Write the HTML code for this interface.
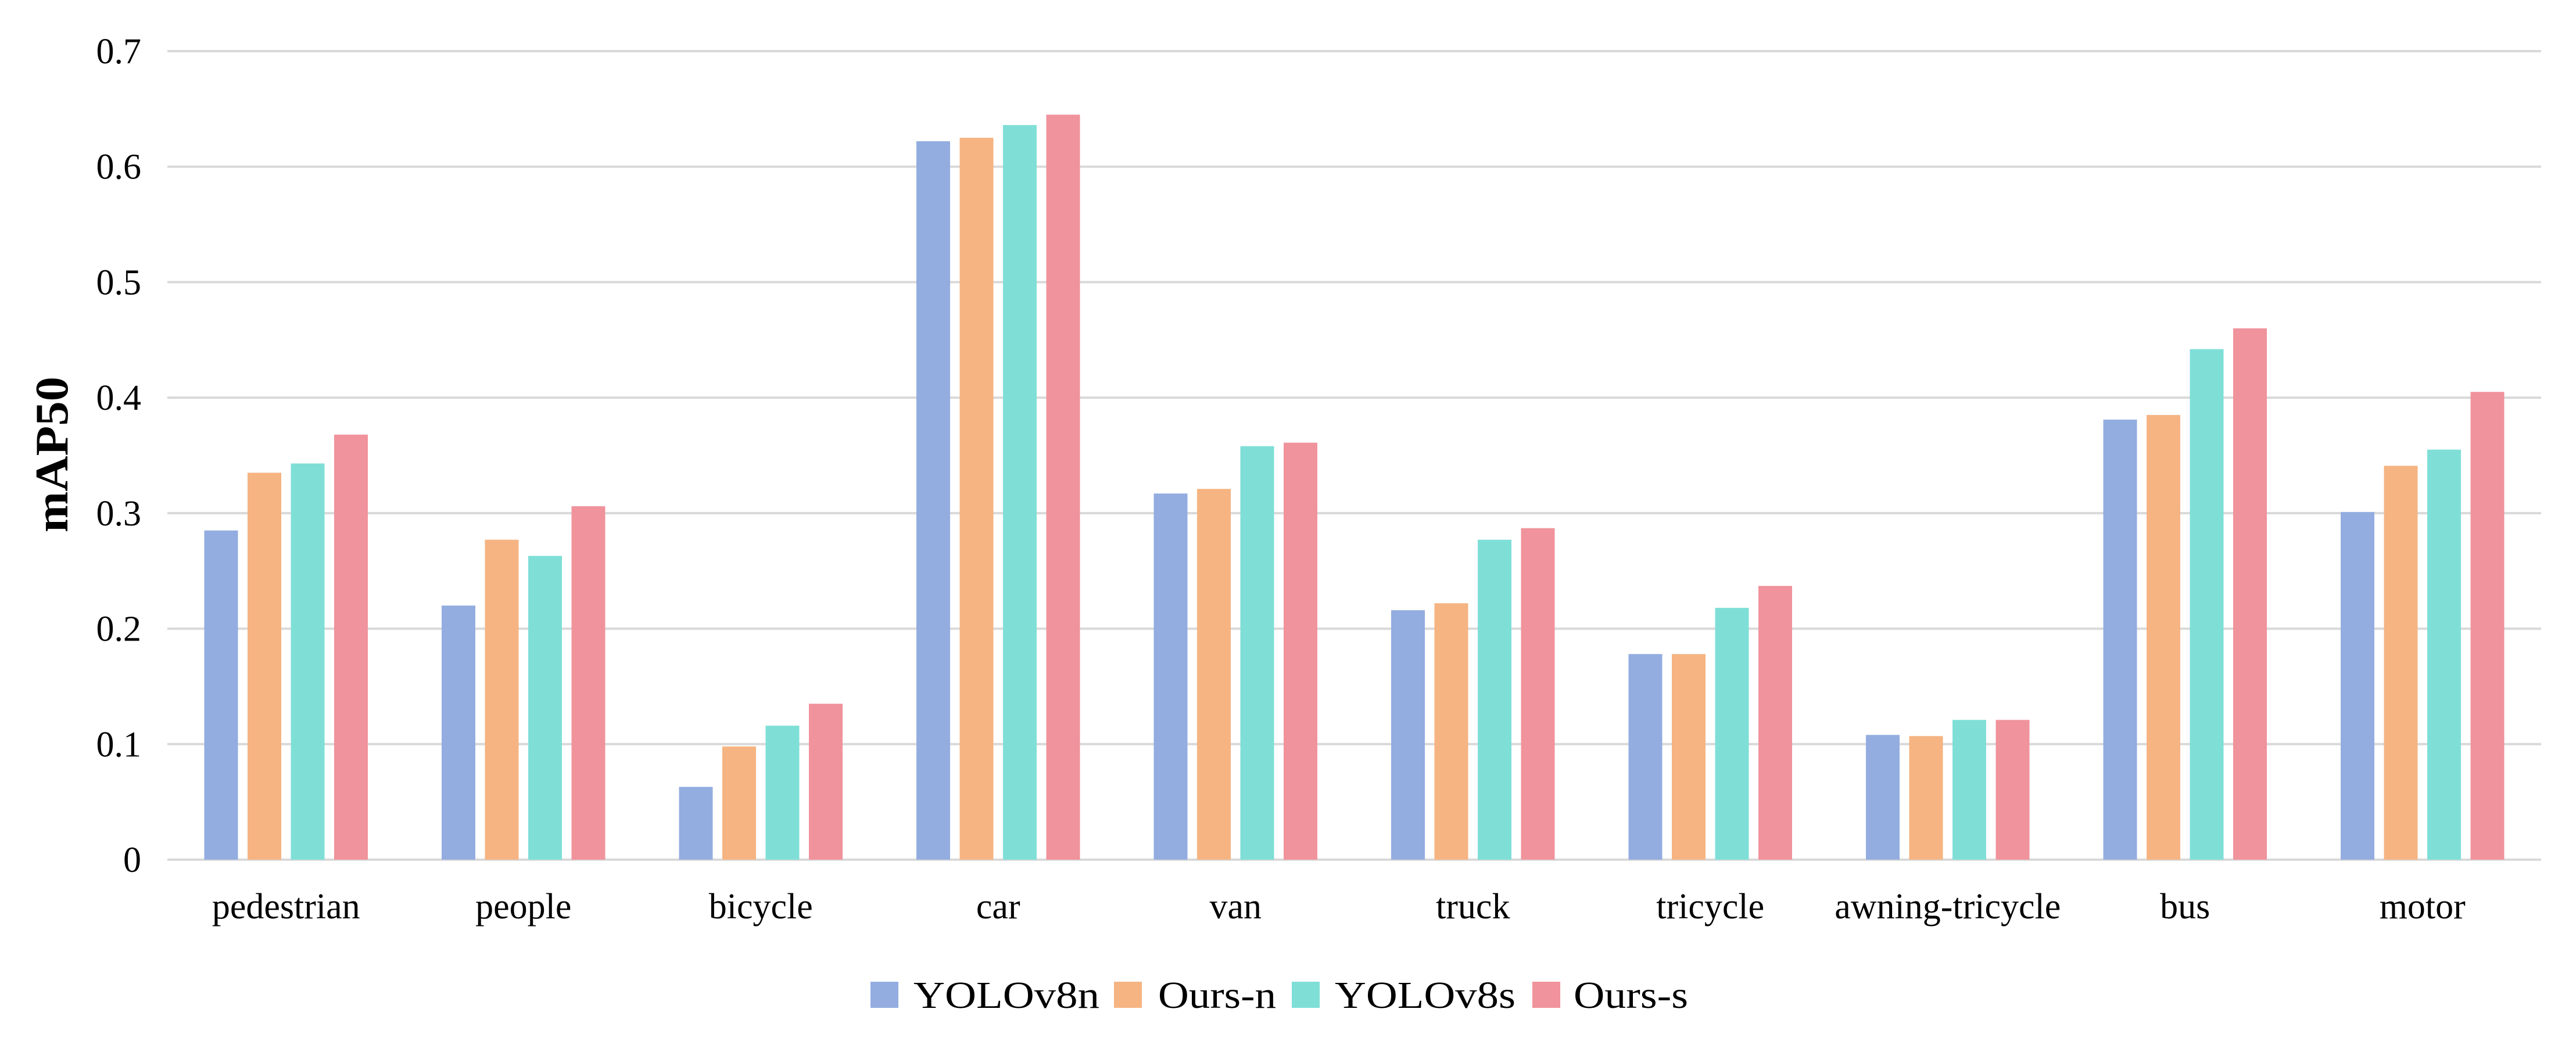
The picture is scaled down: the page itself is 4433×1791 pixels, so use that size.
<!DOCTYPE html>
<html><head><meta charset="utf-8"><style>html,body{margin:0;padding:0;background:#fff}svg{display:block}</style></head>
<body>
<svg id="chart" width="4433" height="1791" viewBox="0 0 4433 1791" xmlns="http://www.w3.org/2000/svg" font-family="'Liberation Serif', serif">
<g id="grid"></g>
<g id="yticks"></g>
<g id="bars"></g>
<g id="xlabels"></g>
<text x="0" y="0" transform="translate(116,782) rotate(-90)" text-anchor="middle" font-size="80" font-weight="bold" textLength="268" lengthAdjust="spacingAndGlyphs">mAP50</text>
<g id="legend"></g>
</svg>
<script>
const categories = ["pedestrian","people","bicycle","car","van","truck","tricycle","awning-tricycle","bus","motor"];
const seriesNames = ["YOLOv8n","Ours-n","YOLOv8s","Ours-s"];
const yolov8n = [0.285,0.220,0.063,0.622,0.317,0.216,0.178,0.108,0.381,0.301];
const oursN   = [0.335,0.277,0.098,0.625,0.321,0.222,0.178,0.107,0.385,0.341];
const yolov8s = [0.343,0.263,0.116,0.636,0.358,0.277,0.218,0.121,0.442,0.355];
const oursS   = [0.368,0.306,0.135,0.645,0.361,0.287,0.237,0.121,0.460,0.405];
const yTicks = [0,0.1,0.2,0.3,0.4,0.5,0.6,0.7];
const yTickLabels = ["0","0.1","0.2","0.3","0.4","0.5","0.6","0.7"];

const series = [yolov8n, oursN, yolov8s, oursS];
const colors = ["#93ADE0","#F5B482","#7FDFD7","#F0939C"];
const NS = "http://www.w3.org/2000/svg";
const plotL = 288, plotR = 4373, y0 = 1479, yTop = 88, yMax = 0.7;
const catW = (plotR - plotL) / categories.length;
const barW = 58, barStep = 74.5;
function yPos(v){ return y0 - (v / yMax) * (y0 - yTop); }
function xCenter(i){ return plotL + catW * (i + 0.5); }
function mk(tag, attrs, parent){ const e = document.createElementNS(NS, tag); for (const k in attrs) e.setAttribute(k, attrs[k]); parent.appendChild(e); return e; }

const grid = document.getElementById('grid');
const yt = document.getElementById('yticks');
yTicks.forEach((t, i) => {
  const l = mk('line', {x1: plotL, x2: plotR, y1: yPos(t), y2: yPos(t), stroke: '#d9d9d9', 'stroke-width': 4}, grid);
  
  
  const tx = mk('text', {x: 243, y: yPos(t) + 21, 'text-anchor': 'end', 'font-size': 62}, yt);
  
  
  tx.textContent = yTickLabels[i];
});

const bars = document.getElementById('bars');
const xl = document.getElementById('xlabels');
categories.forEach((c, i) => {
  const cx = xCenter(i);
  const groupStart = cx - (barStep * 3 + barW) / 2;
  series.forEach((s, j) => {
    const y = yPos(s[i]);
    const r = mk('rect', {x: groupStart + j * barStep, y: y, width: barW, height: y0 - y, fill: colors[j]}, bars);
    
    
  });
  const t = mk('text', {x: cx, y: 1580, 'text-anchor': 'middle', 'font-size': 62}, xl);
  
  
  t.textContent = c;
});

const lg = document.getElementById('legend');
const swX = [1498, 1917, 2223, 2637];
const txX = [1572, 1993, 2297, 2708];
const txW = [320, 203, 311, 197];
seriesNames.forEach((n, j) => {
  const r = mk('rect', {x: swX[j], y: 1689, width: 48, height: 45, fill: colors[j]}, lg);
  
  
  const t = mk('text', {x: txX[j], y: 1734, 'font-size': 66, textLength: txW[j], lengthAdjust: 'spacingAndGlyphs'}, lg);
  
  
  t.textContent = n;
});
</script>
</body></html>
